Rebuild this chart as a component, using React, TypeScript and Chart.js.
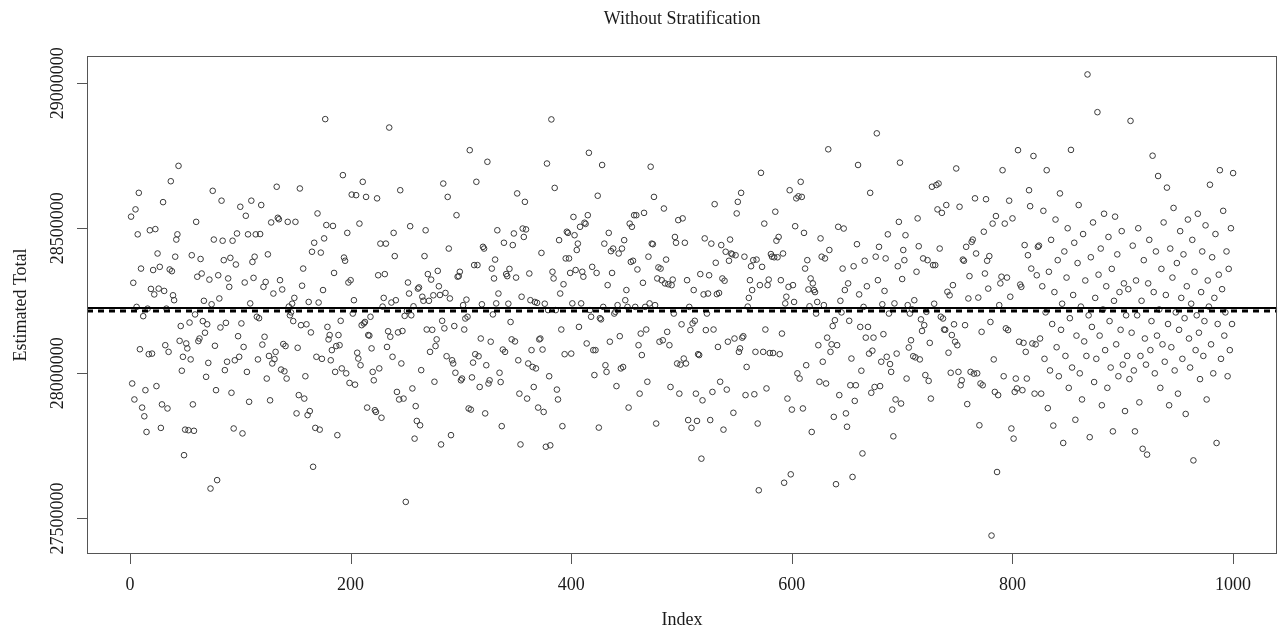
import { useEffect, useRef } from "react";
import { Chart, registerables } from "chart.js";

Chart.register(...registerables);

const TITLE = "Without Stratification";
const X_LABEL = "Index";
const Y_LABEL = "Estimated Total";
const X_TICKS = [0, 200, 400, 600, 800, 1000];
const Y_TICKS = [27500000, 28000000, 28500000, 29000000];
const TRUE_TOTAL = 28225000;
const MEAN_ESTIMATE = 28215000;
const UNIT = 1000; // values below are in thousands

const zoneA = [
  28540, 27965, 28312, 27910, 28565, 28229, 28479, 28622, 28083, 28361,
  27882, 28197, 27852, 27942, 27798, 28223, 28066, 28493, 28291, 28068,
  28356, 28272, 28497, 27956, 28413, 28292, 28367, 27812, 27893, 28590,
  28284, 28097, 28223, 27879, 28074, 28358, 28662, 28352, 28269, 28252,
  28402, 28461, 28479, 28715, 28112, 28163, 28009, 28057, 27718, 27806,
  28103, 28086, 27804, 28175, 28048, 28407, 27893, 27802, 28203, 28522,
  28333, 28111, 28120, 28394, 28344, 28180, 28250, 28140,
];
const zoneB = [
  27988, 28169, 28036, 28323, 27603, 28238, 28629, 28461, 28095, 27942,
  27632, 28338, 28258, 28158, 28595, 28457, 28390, 28011, 28174, 28040,
  28327, 28298, 28398, 27933, 28457, 27810, 28045, 28375, 28482, 28128,
  28057, 28574, 28172, 27793, 28091, 28313, 28543, 28005, 28479, 27902,
  28241, 28595, 28384, 28329, 28402, 28479, 28195, 28048, 28190, 28480,
  28580, 28099, 28298, 28126, 28315, 27982, 28410, 28060, 27907, 28520,
  28034, 28275, 28049, 28074, 28643, 28536, 28531, 28321, 28013, 28289,
  28101, 28007, 28094, 27982, 28522, 28230, 28200, 28210, 28240, 28180,
  28260,
];
const zoneC = [
  28522, 27862, 28088, 27925, 28637, 28166, 28302, 28361, 27913, 27990,
  28169, 27856, 28246, 27870, 28141, 28419, 27678, 28450, 27812, 28057,
  28551, 28244, 27806, 28416, 28050, 28287, 28465, 28876, 28511, 28160,
  28117, 28132, 28045, 28080, 28508, 28346, 28005, 28094, 27787, 28132,
  28097, 28181, 28017, 28683, 28399, 28388, 28000, 28484, 28313, 27967,
  28321, 28616, 28206, 28252, 27961, 28614, 28071, 28051, 28516, 28028,
  28166, 28660, 28172, 28177, 28608, 27882, 28132, 28130, 28195, 28086,
  28005, 27976, 27873, 27867, 28603, 28338, 28017, 28447, 27847, 28230,
  28260,
];
const zoneD = [
  28342, 28447, 28091, 28145, 28847, 28126, 28244, 28057, 28484, 28404,
  28252, 27936, 28141, 27910, 28631, 28034, 28146, 27913, 28198, 27557,
  28215, 28313, 28275, 28507, 28200, 27948, 28231, 27775, 27887, 27836,
  28292, 28296, 27821, 28011, 28264, 28250, 28404, 28493, 28151, 28342,
  28250, 28074, 28323, 28150, 28269, 27971, 28094, 28117, 28353, 28300,
  28270, 27755, 28181, 28654, 28155, 28277, 28059, 28608, 28430, 28258,
  27787, 28045, 28034, 28163, 28002, 28545, 28333, 28335, 28350, 27976,
  27982, 28235, 28151, 28189, 28254, 28195, 27879, 28769, 27875, 27986,
  28037, 28373, 28066,
];
const zoneE = [
  28660, 28373, 28059, 27953, 28120, 28238, 28436, 28430, 27862, 28028,
  28729, 27965, 27976, 28109, 28361, 28203, 28327, 28392, 28241, 28493,
  28275, 28002, 27970, 27818, 28082, 28450, 28074, 28342, 28335, 28240,
  28360, 28177, 28117, 28442, 28482, 28110, 28330, 28620, 28045, 27930,
  27755, 28264, 28499, 28470, 28591, 28496, 27913, 28034, 28344, 28252,
  28080, 28022, 27953, 28246, 28017, 28243, 27882, 28117, 28120, 28415,
  28082, 27867, 28240, 27747, 28723, 28218, 27990, 27752, 28875, 28350,
  28327, 28639, 28218, 27944, 27910, 28459, 28275, 28151, 27818, 28307,
  28066, 28396, 28488,
];
const zoneF = [
  28484, 28396, 28346, 28068, 28241, 28539, 28476, 28356, 28425, 28447,
  28160, 28505, 28241, 28350, 28333, 28519, 28515, 28103, 28545, 28760,
  28218, 28195, 28367, 28080, 27994, 28080, 28346, 28612, 27813, 28190,
  28186, 28718, 28229, 28447, 28028, 28005, 28304, 28484, 28109, 28421,
  28346, 28430, 28206, 28212, 27956, 28235, 28413, 28128, 28017, 28430,
  28022, 28459, 28252, 28287, 28229, 27882, 28516, 28384, 28505, 28388,
  28545, 28229, 28545, 28358, 28097, 27930, 28137, 28063, 28312, 28553,
  28229, 28151, 27971, 28402, 28241, 28712, 28447, 28445, 28608, 28235,
  27827, 28327, 28365, 28109,
];
const zoneG = [
  28361, 28321, 28114, 28568, 28310, 28392, 28143, 28307, 28097, 27953,
  28304, 28323, 28206, 28470, 28450, 28034, 28528, 27930, 28030, 28169,
  28534, 28051, 28450, 28034, 28321, 27839, 28229, 28149, 27812, 28172,
  28287, 28181, 27930, 27836, 28066, 28063, 28342, 27706, 27907, 28272,
  28465, 28149, 28206, 28275, 28338, 27839, 28447, 27936, 28151, 28583,
  28381, 28273, 28091, 28277, 27971, 28442, 28327, 27806, 28319, 28419,
  27944, 28109, 28388, 28461, 28413, 28410, 27864, 28120, 28407, 28551,
  28591, 28074, 28086, 28622, 28123, 28128, 28402, 27925, 28022, 28230,
  28260,
];
const zoneH = [
  28321, 28369, 28287, 28390, 27928, 28074, 28392, 27827, 27597, 28304,
  28691, 28367, 28074, 28516, 28151, 27948, 28304, 28323, 28070, 28411,
  28402, 28070, 28400, 28557, 28457, 28400, 28470, 28066, 28321, 28137,
  28413, 27623, 28241, 28264, 27913, 28298, 28631, 27652, 27875, 28304,
  28246, 28507, 28603, 28000, 28610, 27982, 28660, 28608, 27879, 28484,
  28361, 28028, 28390, 28289, 28231, 28327, 27798, 28310, 28287, 28280,
  28206, 28246, 28097, 27971, 28465, 28402, 28040, 28235, 28396, 27965,
  28123, 28772, 28425, 28074, 28100, 28163, 27850, 28183, 27618, 28097,
  28505, 27925, 28250, 28210,
];
const zoneI = [
  28361, 28499, 28287, 27862, 27816, 28310, 28181, 27959, 28051, 27643,
  28369, 27905, 27959, 28445, 28718, 28272, 28160, 28009, 27724, 28229,
  28388, 28123, 28300, 28160, 28068, 28622, 27933, 28078, 28123, 27953,
  28402, 28827, 28321, 28436, 27956, 28040, 28238, 28135, 28284, 28396,
  28057, 28479, 28206, 28032, 28005, 27875, 27783, 28241, 27910, 28068,
  28369, 28522, 28726, 27896, 28325, 28425, 28390, 28476, 27982, 28235,
  28089, 28206, 28114, 28220, 28059, 28252, 28055, 28350, 28534, 28438,
  28048, 28186, 28146, 28396, 28166, 27994, 28212, 28390, 27974, 28105,
  27913, 28643, 28373, 28240,
];
const zoneJ = [
  28373, 28649, 28565, 28654, 28430, 28195, 28553, 28189, 28151, 28150,
  28580, 28281, 28071, 28269, 28002, 28132, 28304, 28169, 28109, 28706,
  28097, 28005, 28574, 27959, 27976, 28392, 28388, 28166, 28436, 27894,
  28258, 28335, 28005, 28453, 28461, 27999, 28603, 28413, 28000, 28261,
  27821, 27965, 28143, 27959, 28488, 28344, 28600, 28388, 28292, 28404,
  28177, 27441, 28516, 28048, 27936, 28542, 27660, 27925, 28235, 28310,
  28333, 28700, 27990, 28516, 28155, 28330, 28149, 28595, 28264, 27810,
  28534, 27775, 27936, 27982, 27948, 28769, 28109, 28306, 28298, 27942,
  28105, 28442, 28074, 27982, 28407, 28631, 28576, 28361, 28103, 28749,
  27930, 28100, 28338, 28436,
];
const zoneK = [
  28440, 28120, 27930, 28300, 28560, 28050, 28210, 28700, 27880, 28350,
  28010, 28460, 28170, 27820, 28280, 28530, 28090, 28390, 27990, 28620,
  28150, 28240, 27760, 28420, 28060, 28330, 28500, 27950, 28190, 28770,
  28020, 28270, 28450, 27840, 28130, 28380, 28580, 28000, 28230, 27910,
  28480, 28110, 28320, 28060, 29030, 28200, 27780, 28400, 28160, 28520,
  27970, 28260, 28050, 28900, 28340, 28130, 28430, 27890, 28220, 28550,
  28080, 28300, 27950, 28470, 28180, 28020, 28360, 27800, 28250, 28540,
  28100, 28410, 27990, 28280, 28150, 28490, 28030, 28310, 27870, 28200,
];
const zoneL = [
  28060, 28290, 27980, 28870, 28140, 28440, 28010, 27800, 28320, 28200,
  28500, 27900, 28060, 28250, 27740, 28390, 28120, 28030, 27720, 28310,
  28460, 28080, 28180, 28750, 28280, 28000, 28420, 28130, 28680, 28220,
  27950, 28360, 28100, 28520, 28040, 28270, 28640, 28170, 27890, 28430,
  28090, 28330, 28570, 28010, 28210, 28380, 27930, 28150, 28490, 28260,
  28050, 28410, 28190, 27860, 28300, 28530, 28120, 28020, 28240, 28460,
  27700, 28350, 28080, 28200, 28550, 28140, 27980, 28280, 28420, 28060,
  28180, 28510, 27910, 28320, 28230, 28650, 28100, 28400, 28000, 28260,
  28480, 27760, 28170, 28340, 28700, 28050, 28290, 28560, 28130, 28210,
  28420, 27990, 28360, 28080, 28500, 28170, 28690,
];

const estimatesK = [
  ...zoneA, ...zoneB, ...zoneC, ...zoneD, ...zoneE, ...zoneF,
  ...zoneG, ...zoneH, ...zoneI, ...zoneJ, ...zoneK, ...zoneL,
];

const FONT = '"Liberation Serif", "Times New Roman", serif';

export default function App() {
  const ref = useRef<HTMLCanvasElement>(null);

  useEffect(() => {
    document.body.style.margin = "0";
    const canvas = ref.current;
    if (!canvas) return;
    const values = estimatesK.map((v) => v * UNIT);
    const n = values.length;
    const yLo = Math.min(...values);
    const yHi = Math.max(...values);
    const yPad = (yHi - yLo) * 0.04;
    const xPad = (n - 1) * 0.04;
    const xMin = 1 - xPad;
    const xMax = n + xPad;
    const points = values.map((v, i) => ({ x: i + 1, y: v }));

    const rFrame = {
      id: "rFrame",
      afterDraw(chart: any) {
        const { ctx, chartArea: a, scales } = chart;
        const xs = scales.x;
        const ys = scales.y;
        const TICK = 10;
        ctx.save();
        ctx.strokeStyle = "#555";
        ctx.lineWidth = 1;
        ctx.strokeRect(
          Math.round(a.left) + 0.5,
          Math.round(a.top) + 0.5,
          Math.round(a.right - a.left) - 1,
          Math.round(a.bottom - a.top) - 1
        );
        ctx.beginPath();
        X_TICKS.forEach((t) => {
          const px = Math.round(xs.getPixelForValue(t)) + 0.5;
          ctx.moveTo(px, a.bottom);
          ctx.lineTo(px, a.bottom + TICK);
        });
        Y_TICKS.forEach((t) => {
          const py = Math.round(ys.getPixelForValue(t)) + 0.5;
          ctx.moveTo(a.left, py);
          ctx.lineTo(a.left - TICK, py);
        });
        ctx.stroke();

        ctx.fillStyle = "#1a1a1a";
        ctx.font = `18px ${FONT}`;
        ctx.textAlign = "center";
        ctx.textBaseline = "middle";
        X_TICKS.forEach((t) => {
          ctx.fillText(String(t), xs.getPixelForValue(t), a.bottom + 31);
        });
        Y_TICKS.forEach((t) => {
          ctx.save();
          ctx.translate(a.left - 29, ys.getPixelForValue(t));
          ctx.rotate(-Math.PI / 2);
          ctx.fillText(String(t), 0, 0);
          ctx.restore();
        });
        const cx = (a.left + a.right) / 2;
        const cy = (a.top + a.bottom) / 2;
        ctx.fillText(X_LABEL, cx, a.bottom + 66);
        ctx.fillText(TITLE, cx, 19);
        ctx.save();
        ctx.translate(a.left - 66, cy);
        ctx.rotate(-Math.PI / 2);
        ctx.fillText(Y_LABEL, 0, 0);
        ctx.restore();
        ctx.restore();
      },
    };

    const chart = new Chart(canvas, {
      type: "scatter",
      data: {
        datasets: [
          {
            type: "line",
            data: [
              { x: xMin, y: TRUE_TOTAL },
              { x: xMax, y: TRUE_TOTAL },
            ],
            borderColor: "#000",
            borderWidth: 2,
            pointRadius: 0,
            fill: false,
          } as any,
          {
            type: "line",
            data: [
              { x: xMin, y: MEAN_ESTIMATE },
              { x: xMax, y: MEAN_ESTIMATE },
            ],
            borderColor: "#000",
            borderWidth: 3,
            borderDash: [6, 5],
            pointRadius: 0,
            fill: false,
          } as any,
          {
            data: points,
            pointRadius: 2.8,
            pointHoverRadius: 2.8,
            borderWidth: 1,
            borderColor: "#3a3a3a",
            backgroundColor: "rgba(0,0,0,0)",
            pointStyle: "circle",
          },
        ],
      },
      options: {
        responsive: false,
        animation: false,
        devicePixelRatio: 1,
        layout: { padding: { left: 87, top: 56, right: 1, bottom: 78 } },
        plugins: {
          legend: { display: false },
          tooltip: { enabled: false },
          title: { display: false },
        },
        scales: {
          x: { type: "linear", min: xMin, max: xMax, display: false },
          y: { type: "linear", min: yLo - yPad, max: yHi + yPad, display: false },
        },
      },
      plugins: [rFrame],
    });
    return () => chart.destroy();
  }, []);

  return (
    <canvas
      ref={ref}
      width={1281}
      height={632}
      style={{ display: "block", background: "#fff" }}
    />
  );
}
